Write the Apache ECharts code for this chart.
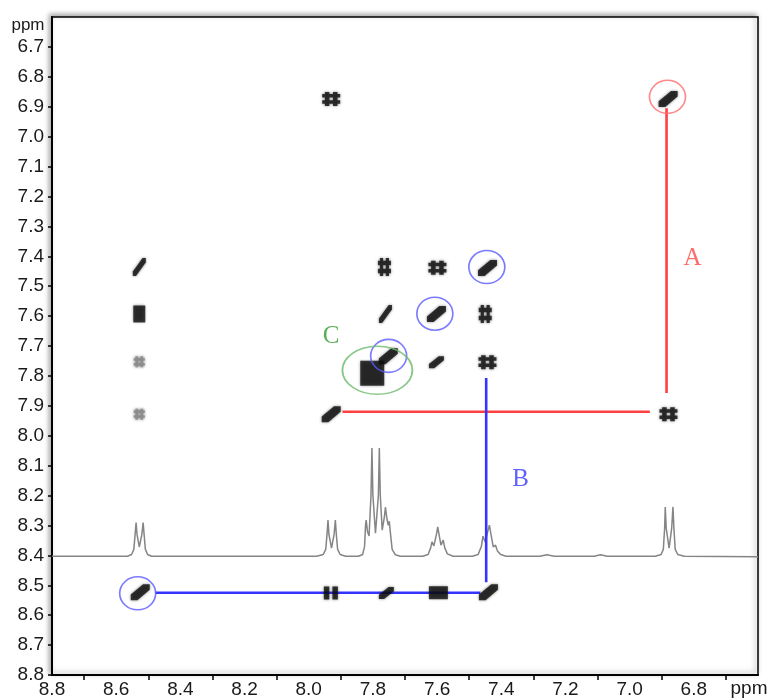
<!DOCTYPE html>
<html><head><meta charset="utf-8">
<script src="https://cdn.jsdelivr.net/npm/echarts@6/dist/echarts.min.js"></script>
<style>html,body{margin:0;padding:0;background:#fff}#c{width:767px;height:700px}</style>
</head><body><div id="c"></div>
<script>
// ---- 1D proton trace (F2 shift, ppm) and its plotted level on the F1 axis (ppm) ----
const traceShift = [8.80, 8.565, 8.552, 8.545, 8.541, 8.538, 8.535, 8.528, 8.520, 8.516, 8.513, 8.509, 8.502, 8.49,
  7.975, 7.955, 7.947, 7.943, 7.940, 7.937, 7.929, 7.921, 7.917, 7.914, 7.910, 7.902, 7.885,
  7.845, 7.832, 7.826, 7.823, 7.821, 7.817, 7.812, 7.806, 7.803, 7.800, 7.792, 7.783, 7.780, 7.777, 7.771, 7.764, 7.761, 7.756, 7.752, 7.749, 7.745, 7.740, 7.730, 7.715,
  7.645, 7.628, 7.620, 7.616, 7.610, 7.602, 7.598, 7.594, 7.588, 7.581, 7.576, 7.568, 7.55,
  7.49, 7.472, 7.462, 7.457, 7.450, 7.442, 7.437, 7.432, 7.425, 7.418, 7.412, 7.402, 7.385,
  7.28, 7.258, 7.235, 7.11, 7.091, 7.07,
  6.92, 6.902, 6.895, 6.891, 6.889, 6.886, 6.877, 6.869, 6.865, 6.862, 6.858, 6.850, 6.83, 6.60];
const traceLevel = [8.403, 8.403, 8.397, 8.38, 8.33, 8.29, 8.33, 8.372, 8.33, 8.29, 8.33, 8.38, 8.397, 8.403,
  8.403, 8.397, 8.38, 8.33, 8.282, 8.33, 8.376, 8.33, 8.282, 8.33, 8.38, 8.397, 8.403,
  8.403, 8.397, 8.37, 8.30, 8.282, 8.32, 8.335, 8.20, 8.041, 8.20, 8.326, 8.20, 8.041, 8.20, 8.316, 8.27, 8.239, 8.28, 8.30, 8.286, 8.33, 8.38, 8.398, 8.403,
  8.403, 8.397, 8.375, 8.355, 8.368, 8.33, 8.305, 8.33, 8.366, 8.349, 8.375, 8.395, 8.403,
  8.403, 8.397, 8.37, 8.336, 8.355, 8.32, 8.299, 8.33, 8.372, 8.366, 8.385, 8.397, 8.403,
  8.403, 8.398, 8.403, 8.403, 8.398, 8.403,
  8.403, 8.397, 8.38, 8.31, 8.238, 8.31, 8.376, 8.31, 8.238, 8.31, 8.38, 8.397, 8.403, 8.405];

// ---- cross peaks (F2 ppm, F1 ppm), grouped by how the blob looks ----
const diagPeakX = [6.880, 7.443, 7.602, 7.752, 7.930, 8.525, 7.440];
const diagPeakY = [6.874, 7.439, 7.593, 7.734, 7.928, 8.523, 8.523];
const slashPeakX = [8.528, 7.761];
const slashPeakY = [7.436, 7.593];
const smallSlashX = [7.602, 7.758];
const smallSlashY = [7.754, 8.526];
const hashWideX = [7.930, 7.599, 6.879, 7.443];
const hashWideY = [6.874, 7.438, 7.928, 7.754];
const hashTallX = [7.764, 7.450];
const hashTallY = [7.436, 7.593];
const blockTallX = [8.528];
const blockTallY = [7.593];
const blockWideX = [7.596];
const blockWideY = [8.525];
const blobX = [7.802];
const blobY = [7.791];
const barsX = [7.931];
const barsY = [8.526];
const faintX = [8.528, 8.528];
const faintY = [7.753, 7.928];

// ---- annotation paths (ppm) ----
const pathA_h = [[7.895, 7.920], [6.937, 7.920]];
const pathA_v = [[6.885, 6.905], [6.885, 7.857]];
const pathB_v = [[7.447, 7.807], [7.447, 8.490]];
const pathB_h = [[8.478, 8.525], [7.465, 8.525]];
const redCircleX = [6.882];
const redCircleY = [6.867];
const blueCircleX = [7.445, 7.607, 7.751, 8.533];
const blueCircleY = [7.436, 7.592, 7.733, 8.527];
const greenEllipseX = [7.786];
const greenEllipseY = [7.781];
const letters = ['A', 'B', 'C'];
const letterX = [6.804, 7.340, 7.930];
const letterY = [7.406, 8.147, 7.667];

const zip = (a, b) => a.map((v, i) => [v, b[i]]);

const SYM = {
  diag: 'path://M0,13 L0,20 L7,20 L20,7 L20,0 L13,0 Z',
  slash: 'path://M0,15 L0,20 L5,20 L20,5 L20,0 L15,0 Z',
  hash: 'path://M3,0 H8 V20 H3 Z M12,0 H17 V20 H12 Z M0,3 H20 V8 H0 Z M0,12 H20 V17 H0 Z',
  bars: 'path://M1,0 H8 V20 H1 Z M12,0 H19 V20 H12 Z'
};

function peaks(xs, ys, symbol, size, color) {
  return {
    type: 'scatter', data: zip(xs, ys), symbol: symbol, symbolSize: size, z: 4,
    itemStyle: { color: color || '#0d0d0d', shadowBlur: 3, shadowColor: 'rgba(0,0,0,0.6)' },
    silent: true
  };
}
function ring(xs, ys, size, color) {
  return {
    type: 'scatter', data: zip(xs, ys), symbol: 'circle', symbolSize: size, z: 5,
    itemStyle: { color: 'rgba(0,0,0,0)', borderColor: color, borderWidth: 1.6 },
    silent: true
  };
}
function seg(pts, color) {
  return {
    type: 'line', data: pts, symbol: 'none', z: 3, silent: true,
    lineStyle: { color: color, width: 2.6 }
  };
}

const letterColors = ['#ff4545', '#3a3aff', '#2e9a2e'];

const option = {
  animation: false,
  backgroundColor: '#fff',
  grid: {
    left: 52, right: 9, top: 17, bottom: 25, show: true,
    borderColor: '#000', borderWidth: 1.5, backgroundColor: '#fff',
    shadowColor: 'rgba(0,0,0,0.35)', shadowBlur: 5, shadowOffsetX: -2, shadowOffsetY: -2
  },
  xAxis: {
    type: 'value', min: 6.6, max: 8.8, interval: 0.2, inverse: true,
    axisLine: { onZero: false, lineStyle: { color: '#000', width: 2 } },
    axisTick: { show: false },
    minorTick: { show: true, splitNumber: 2, length: 5, lineStyle: { color: '#000', width: 1.5 } },
    splitLine: { show: false }, minorSplitLine: { show: false },
    axisLabel: {
      showMinLabel: false, formatter: v => v.toFixed(1), margin: 5,
      fontSize: 19, color: '#1a1a1a', fontFamily: 'Liberation Sans'
    }
  },
  yAxis: {
    type: 'value', min: 6.6, max: 8.8, interval: 0.1, inverse: true,
    axisLine: { onZero: false, lineStyle: { color: '#000', width: 2 } },
    axisTick: { length: 4, lineStyle: { color: '#000', width: 1.5 } },
    splitLine: { show: false },
    axisLabel: {
      showMinLabel: false, formatter: v => v.toFixed(1), margin: 8,
      fontSize: 19, color: '#1a1a1a', fontFamily: 'Liberation Sans'
    }
  },
  graphic: [
    { type: 'text', x: 28, y: 25, style: { text: 'ppm', font: '17px "Liberation Sans"', fill: '#1a1a1a', align: 'center', verticalAlign: 'middle' } },
    { type: 'text', x: 749, y: 689, style: { text: 'ppm', font: '19px "Liberation Sans"', fill: '#1a1a1a', align: 'center', verticalAlign: 'middle' } }
  ],
  series: [
    {
      type: 'line', data: zip(traceShift, traceLevel), symbol: 'none', z: 2, silent: true,
      lineStyle: { color: '#858585', width: 1.5 }
    },
    seg(pathA_h, '#ff4040'), seg(pathA_v, '#ff4040'),
    seg(pathB_v, '#3434ff'), seg(pathB_h, '#3434ff'),
    peaks(diagPeakX, diagPeakY, SYM.diag, [19, 16]),
    peaks(slashPeakX, slashPeakY, SYM.slash, [13, 18]),
    peaks(smallSlashX, smallSlashY, SYM.diag, [15, 12]),
    peaks(hashWideX, hashWideY, SYM.hash, [18, 14]),
    peaks(hashTallX, hashTallY, SYM.hash, [13, 18]),
    peaks(blockTallX, blockTallY, 'rect', [12, 17]),
    peaks(blockWideX, blockWideY, 'rect', [19, 13]),
    peaks(blobX, blobY, 'rect', [24, 25]),
    peaks(barsX, barsY, SYM.bars, [14, 13]),
    peaks(faintX, faintY, SYM.hash, [11, 11], '#8a8a8a'),
    ring(redCircleX, redCircleY, [36, 33], '#ff6a6a'),
    ring(blueCircleX, blueCircleY, [36, 33], '#5a5aff'),
    ring(greenEllipseX, greenEllipseY, [70, 48], '#6cba6c'),
    {
      type: 'scatter', z: 6, silent: true, symbolSize: 1,
      itemStyle: { color: 'rgba(0,0,0,0)' },
      data: letters.map((t, i) => ({
        value: [letterX[i], letterY[i]],
        label: { color: letterColors[i] }
      })),
      label: {
        show: true, position: 'inside',
        formatter: p => letters[p.dataIndex],
        fontFamily: 'Liberation Serif', fontSize: 25
      }
    }
  ]
};

const chart = echarts.init(document.getElementById('c'), null, { renderer: 'canvas' });
chart.setOption(option);
</script>
</body></html>
